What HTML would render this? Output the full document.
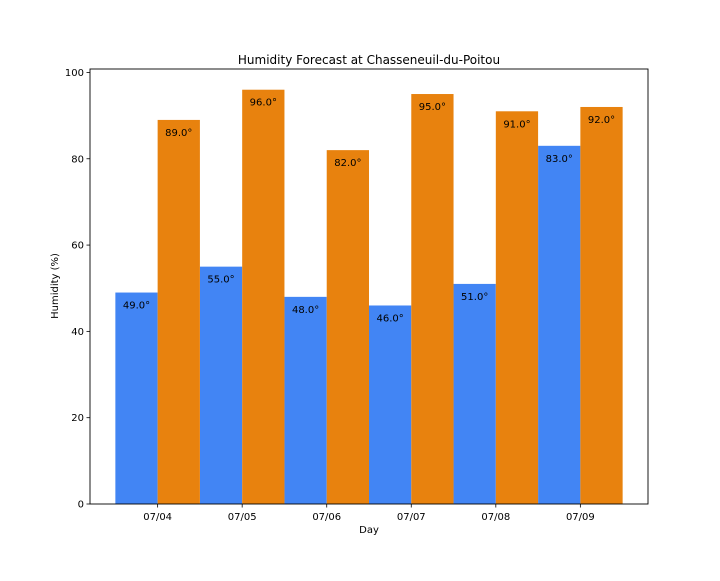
<!DOCTYPE html>
<html><head><meta charset="utf-8"><style>
body{margin:0;background:#fff;font-family:"Liberation Sans","DejaVu Sans",sans-serif;}
</style></head><body>
<svg id="chart" width="720" height="576" xmlns="http://www.w3.org/2000/svg" font-family="DejaVu Sans, Liberation Sans, sans-serif">
<rect width="720" height="576" fill="#fff"/>
<text x="369" y="64" text-anchor="middle" font-size="12">Humidity Forecast at Chasseneuil-du-Poitou</text>
<text x="369" y="533" text-anchor="middle" font-size="10">Day</text>
<text transform="translate(58,286) rotate(-90)" text-anchor="middle" font-size="10">Humidity (%)</text>
<g id="marks"></g>
<rect x="90" y="69" width="558" height="435" fill="none" stroke="#000" stroke-width="0.9"/>
</svg>
<script>
const categories=["07/04","07/05","07/06","07/07","07/08","07/09"];
const seriesA=[49,55,48,46,51,83];
const seriesB=[89,96,82,95,91,92];
const yTicks=[0,20,40,60,80,100];
const L=90,R=648,T=69,B=504,xmin=-0.8,xmax=5.8,ymax=100.8;
const sx=v=>L+(v-xmin)/(xmax-xmin)*(R-L);
const sy=v=>B-v/ymax*(B-T);
const g=document.getElementById('marks');
const NS="http://www.w3.org/2000/svg";
function mk(t,a){const e=document.createElementNS(NS,t);for(const k in a)e.setAttribute(k,a[k]);g.appendChild(e);return e;}
function bars(vals,off,color,name){
 vals.forEach((v,i)=>{
  const x0=sx(i+off-0.25),x1=sx(i+off+0.25);
  const r=mk('rect',{x:x0,y:sy(v),width:x1-x0,height:B-sy(v),fill:color});
  
  
  const t=mk('text',{x:(x0+x1)/2,y:sy(v)+16,'text-anchor':'middle','font-size':'10'});
  t.textContent=v.toFixed(1)+'°';
  
  
 });
}
bars(seriesA,-0.25,'#4285F4','blue');
bars(seriesB,0.25,'#E8820E','orange');
categories.forEach((c,i)=>{
 const x=sx(i);
 const l=mk('line',{x1:x,x2:x,y1:B,y2:B+3.5,stroke:'#000','stroke-width':0.8});
 
 
 const t=mk('text',{x:x,y:B+16,'text-anchor':'middle','font-size':'10'});
 t.textContent=c;
 
 
});
yTicks.forEach(v=>{
 const y=sy(v);
 const l=mk('line',{x1:L-3.5,x2:L,y1:y,y2:y,stroke:'#000','stroke-width':0.8});
 
 
 const t=mk('text',{x:L-6,y:y+3.5,'text-anchor':'end','font-size':'10'});
 t.textContent=v;
 
 
});
</script>
</body></html>
